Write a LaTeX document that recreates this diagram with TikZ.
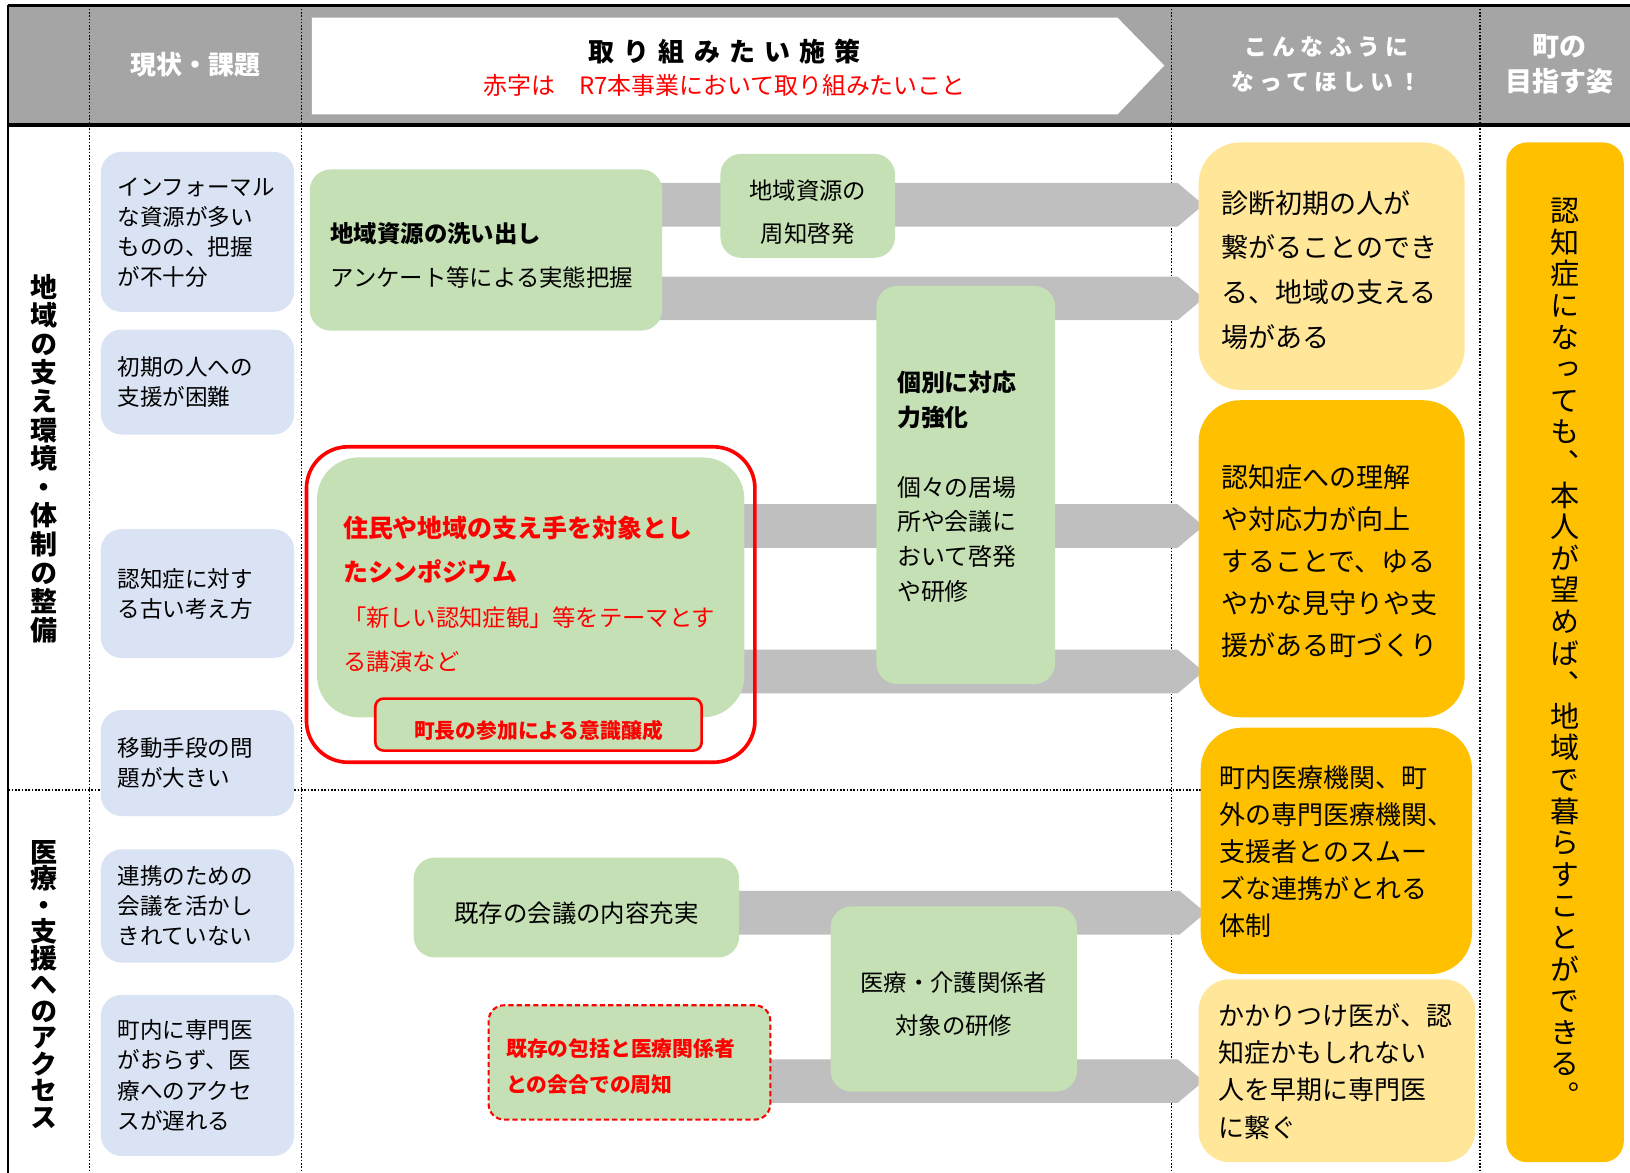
\documentclass[tikz,border=0pt]{standalone}
\usepackage{fontspec}
\setmainfont{Noto Sans CJK JP}
\newfontfamily\tatefont{Noto Sans CJK JP}[RawFeature=+vert]
\usepackage{xcolor}
\usepackage{tikz}
\usetikzlibrary{calc,fit,backgrounds}

\definecolor{headgray}{RGB}{165,165,165}
\definecolor{bandgray}{RGB}{191,191,191}
\definecolor{issueblue}{RGB}{218,227,243}
\definecolor{plangreen}{RGB}{197,224,180}
\definecolor{hopeyellow}{RGB}{255,230,153}
\definecolor{hopeorange}{RGB}{255,192,0}
\definecolor{planred}{RGB}{255,0,0}

\makeatletter
\newcommand\tate[1]{\vbox{\lineskiplimit=-100pt\tate@#1\@nil}}
\def\tate@#1{\ifx\@nil#1\else\hbox to 1em{\hss#1\hss}\expandafter\tate@\fi}
\makeatother

\newcommand\band[3]{%
  \fill[bandgray] ($(#1.east |- 0,#3)+(-20,-21)$) -- ($(#2.west |- 0,#3)+(-20,-21)$)
    -- ($(#2.west |- 0,#3)+(5,0)$) -- ($(#2.west |- 0,#3)+(-20,21)$)
    -- ($(#1.east |- 0,#3)+(-20,21)$) -- cycle;}

\tikzset{
  headtext/.style={text=white, align=center, font=\bfseries\fontsize{25}{33}\selectfont},
  textdrop/.style={inner ysep=0pt, text height=30pt, text depth=#1},
  issue/.style={fill=issueblue, rounded corners=20pt, minimum width=186pt, inner xsep=16pt,
    text width=154pt, align=left, font=\fontsize{21.7}{29}\selectfont},
  plan/.style={fill=plangreen, rounded corners=20pt, font=\fontsize{22.5}{42}\selectfont},
  hope/.style={rounded corners=40pt, align=left, font=\fontsize{26}{43}\selectfont},
  dotline/.style={line width=1.6pt, dash pattern=on 1.6pt off 1.6pt},
  rowlabel/.style={font=\tatefont\bfseries\fontsize{26}{27.5}\selectfont}
}

\begin{document}
\begin{tikzpicture}[x=1pt,y=-1pt]
\useasboundingbox (0,0) rectangle (1568,1128);

\node[headtext] (hIssue) at (188,62) {現状・課題};
\node[font=\bfseries\fontsize{25}{30}\selectfont\addfontfeature{LetterSpace=35}] (hPlan) at (697,50) {取り組みたい施策};
\node[text=planred, font=\fontsize{23}{28}\selectfont] (hNote) at (697,82) {赤字は　R7本事業において取り組みたいこと};
\node[headtext, font=\bfseries\fontsize{22}{33}\selectfont\addfontfeature{LetterSpace=23}] (hHope) at (1276,62) {こんなふうに\\なってほしい！};
\node[headtext, font=\bfseries\fontsize{26}{33}\selectfont] (hGoal) at (1500,62) {町の\\目指す姿};

\node[rowlabel] (rowLocal) at (42,441) {\tate{地域の支え環境・体制の整備}};
\node[rowlabel, font=\tatefont\bfseries\fontsize{26}{25.5}\selectfont] (rowMedical) at (42,947) {\tate{医療・支援へのアクセス}};

\node[issue, textdrop=100.5pt, minimum height=154pt] (issInformal) at (190,223) {インフォーマル\\な資源が多い\\ものの、把握\\が不十分};
\node[issue, textdrop=42.5pt, minimum height=101pt] (issEarly) at (190,367.5) {初期の人への\\支援が困難};
\node[issue, textdrop=42.5pt, minimum height=124pt] (issOldView) at (190,571) {認知症に対す\\る古い考え方};
\node[issue, textdrop=42.5pt, minimum height=102pt] (issTransport) at (190,734) {移動手段の問\\題が大きい};
\node[issue, textdrop=71.5pt, minimum height=109pt] (issMeeting) at (190,871.5) {連携のための\\会議を活かし\\きれていない};
\node[issue, textdrop=100.5pt, minimum height=155pt] (issAccess) at (190,1034.5) {町内に専門医\\がおらず、医\\療へのアクセ\\スが遅れる};

\node[plan, minimum width=339pt, minimum height=155pt, inner xsep=20pt, text width=299pt, align=left, textdrop=44pt] (survey) at (467.5,240.5) {\textbf{地域資源の洗い出し}\\アンケート等による実態把握};
\node[plan, minimum width=168pt, minimum height=100pt, inner xsep=14pt, text width=140pt, align=center, textdrop=43pt] (publicize) at (777,198) {地域資源の\\周知啓発};
\node[plan, minimum width=172pt, minimum height=383pt, inner xsep=20pt, text width=132pt, align=left, textdrop=209.5pt, font=\fontsize{23}{33.5}\selectfont] (individual) at (929,466.5) {\textbf{個別に対応}\\\textbf{力強化}\\[33.5pt]個々の居場\\所や会議に\\おいて啓発\\や研修};
\node[plan, rounded corners=40pt, minimum width=411pt, minimum height=250pt, inner xsep=25pt, text width=361pt, align=left, textdrop=126.4pt, text=planred, font=\fontsize{22.4}{42.7}\selectfont] (symposium) at (510.5,565) {\textbf{\fontsize{24}{42.7}\selectfont 住民や地域の支え手を対象とし}\\\textbf{\fontsize{24}{42.7}\selectfont たシンポジウム}\\「新しい認知症観」等をテーマとす\\る講演など};
\node[plan, draw=planred, line width=2.5pt, rounded corners=8pt, minimum width=314pt, minimum height=50pt, inner xsep=12pt, text width=290pt, align=center, textdrop=2.8pt, text=planred, font=\bfseries\fontsize{20}{24}\selectfont] (mayor) at (518,697) {町長の参加による意識醸成};
\node[draw=planred, line width=3.5pt, rounded corners=40pt, inner sep=10pt, fit=(symposium)(mayor)] (symframe) {};
\node[plan, minimum width=313pt, minimum height=96pt, inner xsep=16.5pt, text width=280pt, align=center, textdrop=2.1pt, font=\fontsize{23.5}{28}\selectfont] (meeting) at (554.5,873) {既存の会議の内容充実};
\node[plan, minimum width=237pt, minimum height=178pt, inner xsep=18.5pt, text width=200pt, align=center, textdrop=44.9pt] (training) at (917.5,961) {医療・介護関係者\\対象の研修};
\node[plan, draw=planred, line width=2pt, dash pattern=on 5pt off 3pt, rounded corners=15pt, minimum width=271pt, minimum height=110pt, inner xsep=17pt, text width=237pt, align=left, textdrop=40.8pt, text=planred, font=\bfseries\fontsize{20}{34}\selectfont] (liaison) at (605.5,1022) {既存の包括と医療関係者\\との会合での周知};

\node[hope, fill=hopeyellow, minimum width=256pt, minimum height=238pt, inner xsep=22pt, text width=212pt, textdrop=132.2pt] (hopeConnect) at (1281,256) {診断初期の人が\\繋がることのでき\\る、地域の支える\\場がある};
\node[hope, fill=hopeorange, minimum width=256pt, minimum height=305pt, inner xsep=22pt, text width=212pt, textdrop=167.2pt, font=\fontsize{26}{40.5}\selectfont] (hopeWatch) at (1281,537.5) {認知症への理解\\や対応力が向上\\することで、ゆる\\やかな見守りや支\\援がある町づくり};
\node[hope, fill=hopeorange, minimum width=261pt, minimum height=237pt, inner xsep=18pt, text width=225pt, textdrop=152pt, font=\fontsize{25}{35.5}\selectfont] (hopeLink) at (1285.5,818.5) {町内医療機関、町\\外の専門医療機関、\\支援者とのスムー\\ズな連携がとれる\\体制};
\node[hope, fill=hopeyellow, rounded corners=30pt, minimum width=266pt, minimum height=176pt, inner xsep=19pt, text width=228pt, textdrop=118pt, font=\fontsize{25}{36}\selectfont] (hopeDoctor) at (1286,1030) {かかりつけ医が、認\\知症かもしれない\\人を早期に専門医\\に繋ぐ};

\node[fill=hopeorange, rounded corners=20pt, minimum width=113pt, minimum height=981pt, font=\tatefont\fontsize{28}{30.4}\selectfont] (vision) at (1505.5,627.5) {\tate{認知症になっても、本人が望めば、地域で暮らすことができる。}};

\begin{scope}[on background layer]
  \fill[headgray] (8,5) rectangle (1568,120);
  \fill[white] (300,17) -- (1075,17) -- (1120,63) -- (1075,110) -- (300,110) -- cycle;
  \foreach \x in {86,290,1127,1424}
    \draw[dotline] (\x,5) -- (\x,1128);
  \draw[dotline] (8,760) -- (1160,760);
  \draw[line width=3pt] (8,5) -- (1568,5);
  \draw[line width=3.5pt] (8,120) -- (1568,120);
  \draw[line width=2pt] (8,5) -- (8,1128);
  \band{survey}{hopeConnect}{197}
  \band{survey}{hopeConnect}{287}
  \band{symposium}{hopeWatch}{506}
  \band{symposium}{hopeWatch}{646}
  \band{meeting}{hopeLink}{878}
  \band{liaison}{hopeDoctor}{1040}
\end{scope}
\end{tikzpicture}
\end{document}
